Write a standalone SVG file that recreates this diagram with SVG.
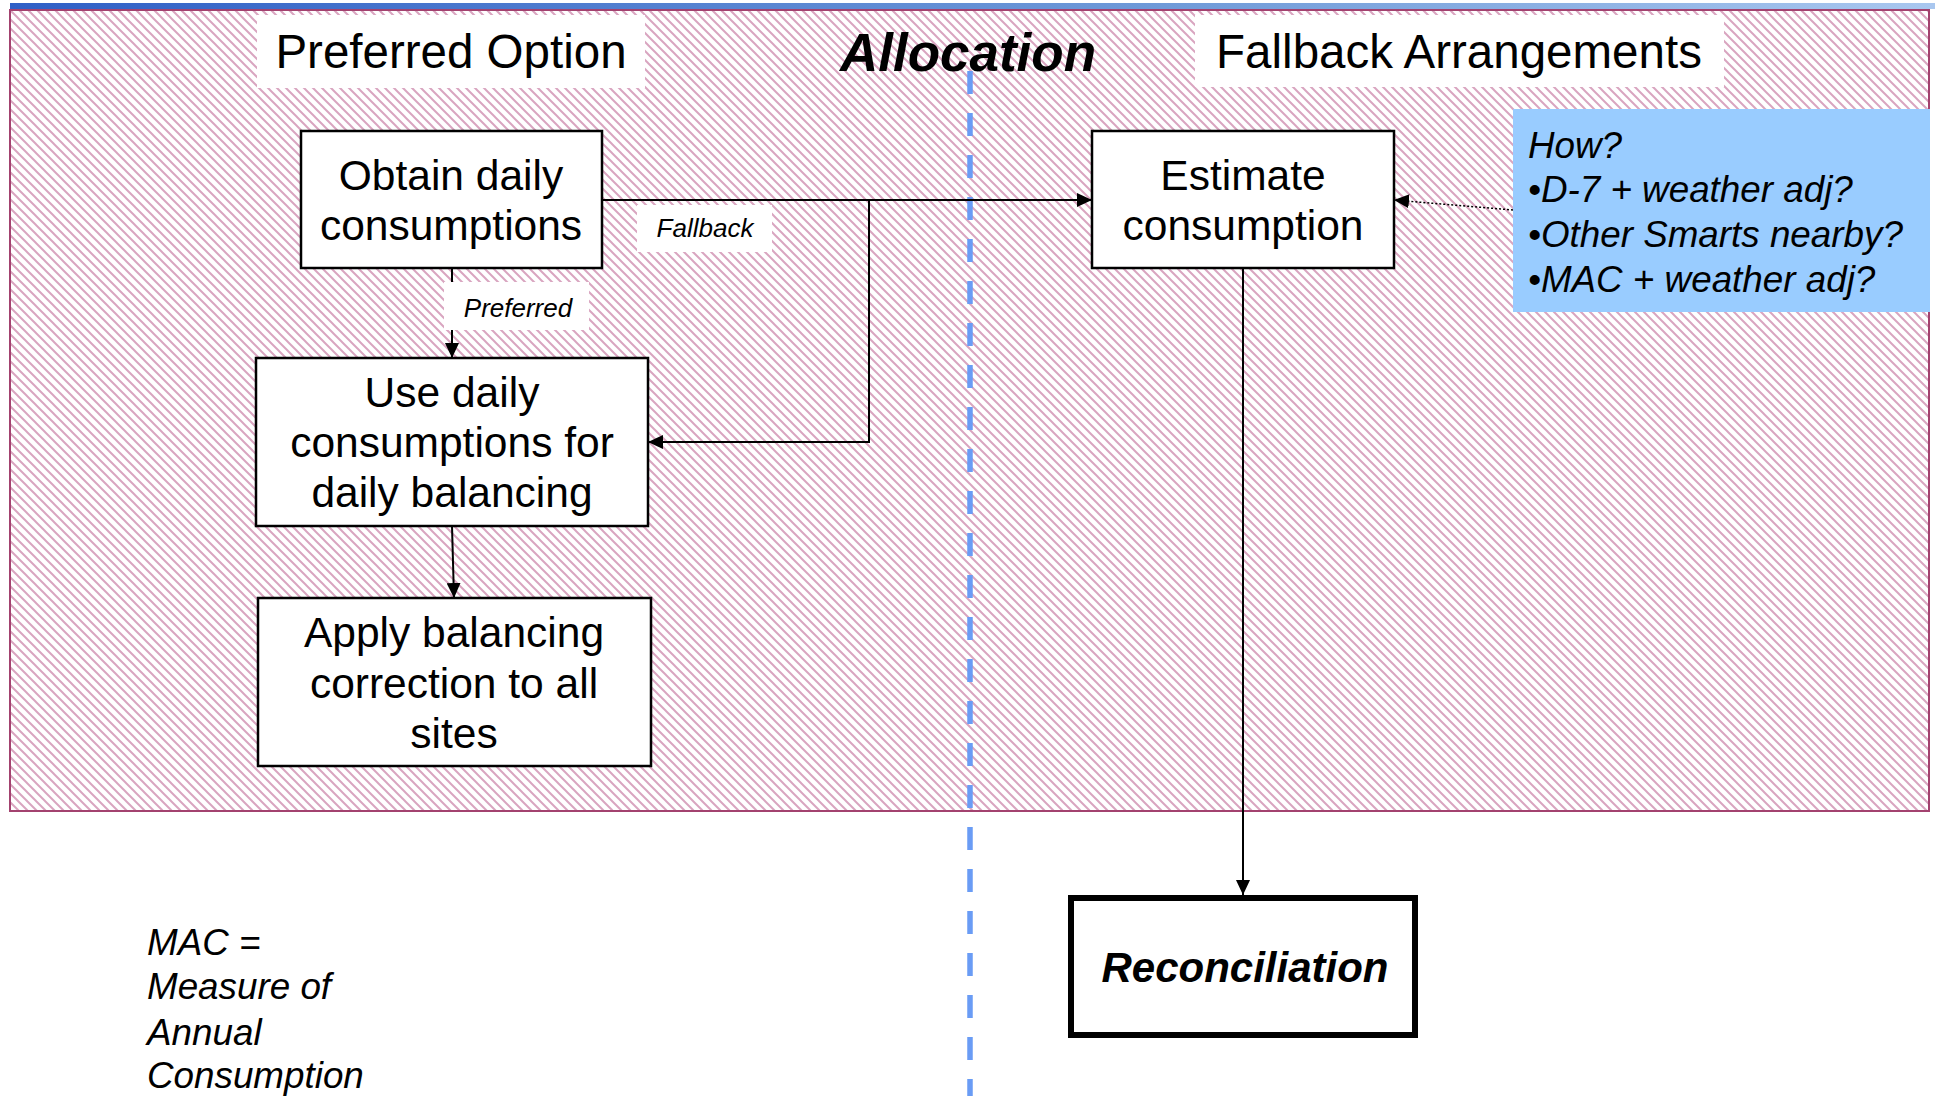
<svg xmlns="http://www.w3.org/2000/svg" width="1935" height="1096" viewBox="0 0 1935 1096">
  <style>
    text { font-family: "Liberation Sans", Arial, Helvetica, sans-serif; fill: #000; }
    .node { fill: #fff; stroke: #000; stroke-width: 2.5; }
    .nodetxt { font-size: 42.5px; text-anchor: middle; }
    .head { font-size: 47.5px; text-anchor: middle; }
    .lbl { font-size: 26px; font-style: italic; text-anchor: middle; }
    .wire { fill: none; stroke: #000; stroke-width: 2; }
    .note { font-size: 36.8px; font-style: italic; }
  </style>
  <defs>
    <pattern id="hatch" patternUnits="userSpaceOnUse" width="9" height="9">
      <rect width="9" height="9" fill="#fff"/>
      <path d="M-4.5,-4.5 L13.5,13.5 M-13.5,-4.5 L4.5,13.5 M4.5,-4.5 L22.5,13.5" stroke="#d9a5c0" stroke-width="2"/>
    </pattern>
    <linearGradient id="topbar" x1="0" y1="0" x2="1" y2="0">
      <stop offset="0" stop-color="#2f5fc6"/>
      <stop offset="0.6" stop-color="#6f9ad8"/>
      <stop offset="1" stop-color="#a9c7ef"/>
    </linearGradient>
    <marker id="arr" viewBox="0 0 15 14" refX="15" refY="7" markerWidth="15" markerHeight="14" markerUnits="userSpaceOnUse" orient="auto">
      <path d="M0,0 L15,7 L0,14 z" fill="#000"/>
    </marker>
  </defs>

  <!-- page background and hatched allocation area -->
  <rect width="1935" height="1096" fill="#fff"/>
  <rect x="10" y="3" width="1925" height="6" fill="url(#topbar)"/>
  <rect x="10" y="10" width="1919" height="801" fill="url(#hatch)" stroke="#a3426f" stroke-width="2"/>

  <!-- section headings -->
  <g id="heading-preferred">
    <rect x="257" y="15" width="388" height="73" fill="#fff"/>
    <text class="head" x="451" y="68">Preferred Option</text>
  </g>
  <g id="heading-fallback">
    <rect x="1195" y="15" width="529" height="72" fill="#fff"/>
    <text class="head" x="1459" y="68">Fallback Arrangements</text>
  </g>
  <g id="heading-allocation">
    <text x="968" y="71" font-size="53" font-weight="bold" font-style="italic" text-anchor="middle">Allocation</text>
  </g>

  <!-- dashed divider between the two options -->
  <line id="divider" x1="970" y1="71" x2="970" y2="1096" stroke="#6a9cf5" stroke-width="5.5" stroke-dasharray="23,19"/>

  <!-- connectors -->
  <g id="connectors">
    <path class="wire" d="M602,200 H1092" marker-end="url(#arr)"/>
    <path class="wire" d="M869,200 V442 H648" marker-end="url(#arr)"/>
    <path class="wire" d="M452,268 V358" marker-end="url(#arr)"/>
    <path class="wire" d="M452,526 L454,598" marker-end="url(#arr)"/>
    <path class="wire" d="M1243,268 V895" marker-end="url(#arr)"/>
    <path d="M1513,210 L1394,200" fill="none" stroke="#000" stroke-width="1.5" stroke-dasharray="2,2" marker-end="url(#arr)"/>
    <g id="label-fallback">
      <rect x="637" y="205" width="135" height="47" fill="#fff"/>
      <text class="lbl" x="705" y="237">Fallback</text>
    </g>
    <g id="label-preferred">
      <rect x="444" y="282" width="145" height="48" fill="#fff"/>
      <text class="lbl" x="518" y="317">Preferred</text>
    </g>
  </g>

  <!-- process nodes -->
  <g id="node-obtain">
    <rect class="node" x="301" y="131" width="301" height="137"/>
    <text class="nodetxt" x="451" y="190">Obtain daily</text>
    <text class="nodetxt" x="451" y="240">consumptions</text>
  </g>
  <g id="node-use">
    <rect class="node" x="256" y="358" width="392" height="168"/>
    <text class="nodetxt" x="452" y="407">Use daily</text>
    <text class="nodetxt" x="452" y="457">consumptions for</text>
    <text class="nodetxt" x="452" y="507">daily balancing</text>
  </g>
  <g id="node-apply">
    <rect class="node" x="258" y="598" width="393" height="168"/>
    <text class="nodetxt" x="454" y="647">Apply balancing</text>
    <text class="nodetxt" x="454" y="698">correction to all</text>
    <text class="nodetxt" x="454" y="748">sites</text>
  </g>
  <g id="node-estimate">
    <rect class="node" x="1092" y="131" width="302" height="137"/>
    <text class="nodetxt" x="1243" y="190">Estimate</text>
    <text class="nodetxt" x="1243" y="240">consumption</text>
  </g>
  <g id="node-how">
    <rect x="1513" y="109" width="417" height="203" fill="#99ccff"/>
    <text class="note" x="1528" y="158">How?</text>
    <text class="note" x="1528" y="202">•D-7 + weather adj?</text>
    <text class="note" x="1528" y="247">•Other Smarts nearby?</text>
    <text class="note" x="1528" y="292">•MAC + weather adj?</text>
  </g>
  <g id="node-reconciliation">
    <rect x="1071" y="898" width="344" height="137" fill="#fff" stroke="#000" stroke-width="6"/>
    <text x="1245" y="982" font-size="42" font-weight="bold" font-style="italic" text-anchor="middle">Reconciliation</text>
  </g>

  <!-- abbreviation note -->
  <g id="note-mac">
    <text class="note" x="147" y="955">MAC =</text>
    <text class="note" x="147" y="999">Measure of</text>
    <text class="note" x="147" y="1045">Annual</text>
    <text class="note" x="147" y="1088">Consumption</text>
  </g>
</svg>
